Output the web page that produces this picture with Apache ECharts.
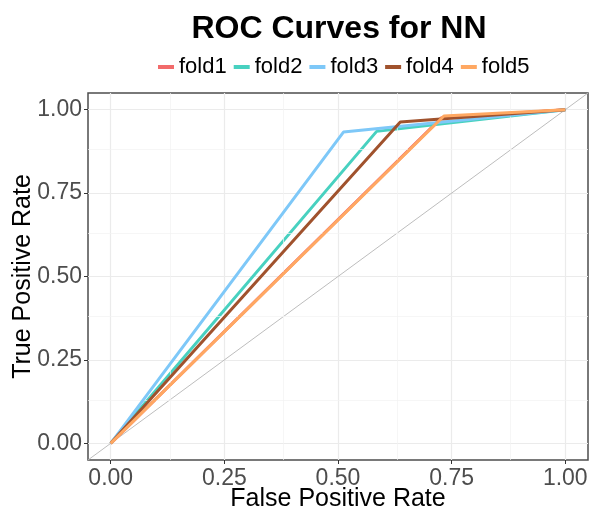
<!DOCTYPE html>
<html>
<head>
<meta charset="utf-8">
<script src="https://cdn.jsdelivr.net/npm/echarts@6/dist/echarts.min.js"></script>
<style>
  html, body { margin: 0; padding: 0; background: #fff; }
  #chart { width: 590px; height: 513px; }
</style>
</head>
<body>
<div id="chart"></div>
<script>
// fold names and colours
const folds = ['fold1', 'fold2', 'fold3', 'fold4', 'fold5'];
const foldColors = ['#f26b6b', '#48d1c0', '#7ec8f8', '#a0522d', '#ffa862'];

// ROC corner point for each fold (fpr, tpr); curves run (0,0) -> corner -> (1,1)
const fpr = [0.728, 0.585, 0.512, 0.637, 0.733];
const tpr = [0.976, 0.935, 0.933, 0.963, 0.981];

// tick values for both axes
const tickValues = [0, 0.25, 0.5, 0.75, 1];
const minorValues = [0.125, 0.375, 0.625, 0.875];

const font = 'Liberation Sans, Arial, sans-serif';

const chart = echarts.init(document.getElementById('chart'), null, { renderer: 'canvas' });

const foldSeries = folds.map((name, i) => ({
  name: name,
  type: 'line',
  data: [[0, 0], [fpr[i], tpr[i]], [1, 1]],
  symbol: 'none',
  z: 3 + i,
  lineStyle: { color: foldColors[i], width: 3 },
  itemStyle: { color: foldColors[i] },
}));

// grey reference diagonal plus the minor grid lines
const gridSeries = {
  name: 'ref',
  type: 'line',
  data: [[-0.05, -0.05], [1.05, 1.05]],
  symbol: 'none',
  silent: true,
  z: 2,
  lineStyle: { color: '#bdbdbd', width: 1 },
  markLine: {
    silent: true,
    symbol: 'none',
    label: { show: false },
    lineStyle: { color: '#f2f2f2', width: 0.7, type: 'solid' },
    data: minorValues.map(v => ({ xAxis: v })).concat(minorValues.map(v => ({ yAxis: v }))),
  },
};

const axisCommon = {
  type: 'value',
  min: -0.05,
  max: 1.05,
  axisLine: { show: false, onZero: false },
  axisTick: { show: true, length: 4, lineStyle: { color: '#333', width: 1 }, customValues: tickValues },
  axisLabel: {
    customValues: tickValues,
    formatter: v => v.toFixed(2),
    color: '#4d4d4d',
    fontSize: 23,
    fontFamily: font,
  },
  splitLine: { show: true, lineStyle: { color: '#ebebeb', width: 1.2 } },
  nameLocation: 'middle',
  nameMoveOverlap: false,
  nameTextStyle: { color: '#000', fontSize: 25, fontFamily: font },
};

const option = {
  backgroundColor: '#fff',
  animation: false,
  title: {
    text: 'ROC Curves for NN',
    left: 334,
    textAlign: 'center',
    top: 8,
    textStyle: { fontSize: 32, fontWeight: 'bold', color: '#000', fontFamily: font },
  },
  legend: {
    data: folds,
    top: 51,
    left: 153,
    itemWidth: 16,
    itemHeight: 4,
    itemGap: 7,
    icon: 'rect',
    textStyle: { fontSize: 22, color: '#000', fontFamily: font },
  },
  grid: {
    left: 88,
    right: 2,
    top: 93,
    bottom: 53,
    outerBoundsMode: 'none',
    show: true,
    borderColor: '#4d4d4d',
    borderWidth: 1.5,
    backgroundColor: 'transparent',
  },
  xAxis: Object.assign({}, axisCommon, {
    name: 'False Positive Rate',
    nameGap: 27,
    axisLabel: Object.assign({}, axisCommon.axisLabel, { margin: 7 }),
  }),
  yAxis: Object.assign({}, axisCommon, {
    name: 'True Positive Rate',
    nameGap: 52,
    axisLabel: Object.assign({}, axisCommon.axisLabel, { margin: 6 }),
  }),
  series: [gridSeries].concat(foldSeries),
};

chart.setOption(option);
</script>
</body>
</html>
